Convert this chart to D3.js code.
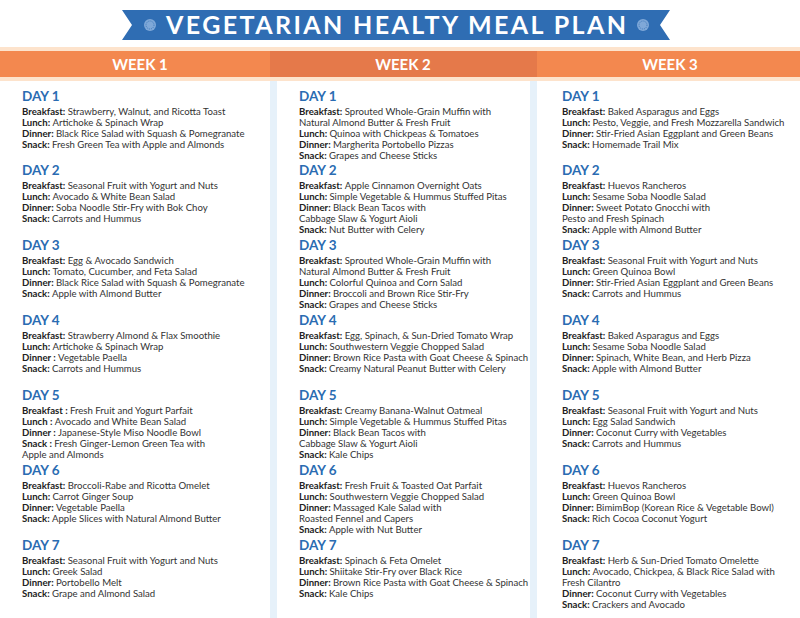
<!DOCTYPE html>
<html>
<head>
<meta charset="utf-8">
<script src="https://cdn.jsdelivr.net/npm/d3@7"></script>
<style>
body{margin:0;background:#fff;}
</style>
</head>
<body>
<svg id="plan" width="800" height="618"></svg>
<script>
var title = "VEGETARIAN HEALTY MEAL PLAN";
var weeks = ["WEEK 1", "WEEK 2", "WEEK 3"];
var dayStart = [96, 170, 245, 320, 395, 470, 545];

var week1 = [
	[["Breakfast:", "Strawberry, Walnut, and Ricotta Toast"], ["Lunch:", "Artichoke & Spinach Wrap"], ["Dinner:", "Black Rice Salad with Squash & Pomegranate"], ["Snack:", "Fresh Green Tea with Apple and Almonds"]],
	[["Breakfast:", "Seasonal Fruit with Yogurt and Nuts"], ["Lunch:", "Avocado & White Bean Salad"], ["Dinner:", "Soba Noodle Stir-Fry with Bok Choy"], ["Snack:", "Carrots and Hummus"]],
	[["Breakfast:", "Egg & Avocado Sandwich"], ["Lunch:", "Tomato, Cucumber, and Feta Salad"], ["Dinner:", "Black Rice Salad with Squash & Pomegranate"], ["Snack:", "Apple with Almond Butter"]],
	[["Breakfast:", "Strawberry Almond & Flax Smoothie"], ["Lunch:", "Artichoke & Spinach Wrap"], ["Dinner :", "Vegetable Paella"], ["Snack:", "Carrots and Hummus"]],
	[["Breakfast :", "Fresh Fruit and Yogurt Parfait"], ["Lunch :", "Avocado and White Bean Salad"], ["Dinner :", " Japanese-Style Miso Noodle Bowl"], ["Snack :", "Fresh Ginger-Lemon Green Tea with"], ["", "Apple and Almonds"]],
	[["Breakfast:", "Broccoli-Rabe and Ricotta Omelet"], ["Lunch:", "Carrot Ginger Soup"], ["Dinner:", "Vegetable Paella"], ["Snack:", "Apple Slices with Natural Almond Butter"]],
	[["Breakfast:", "Seasonal Fruit with Yogurt and Nuts"], ["Lunch:", "Greek Salad"], ["Dinner:", "Portobello Melt"], ["Snack:", "Grape and Almond Salad"]]
];
var week2 = [
	[["Breakfast:", "Sprouted Whole-Grain Muffin with"], ["", "Natural Almond Butter & Fresh Fruit"], ["Lunch:", "Quinoa with Chickpeas & Tomatoes"], ["Dinner:", "Margherita Portobello Pizzas"], ["Snack:", "Grapes and Cheese Sticks"]],
	[["Breakfast:", "Apple Cinnamon Overnight Oats"], ["Lunch:", "Simple Vegetable & Hummus Stuffed Pitas"], ["Dinner:", " Black Bean Tacos with"], ["", "Cabbage Slaw & Yogurt Aioli"], ["Snack:", "Nut Butter with Celery"]],
	[["Breakfast:", "Sprouted Whole-Grain Muffin with"], ["", "Natural Almond Butter & Fresh Fruit"], ["Lunch:", "Colorful Quinoa and Corn Salad"], ["Dinner:", "Broccoli and Brown Rice Stir-Fry"], ["Snack:", "Grapes and Cheese Sticks"]],
	[["Breakfast:", "Egg, Spinach, & Sun-Dried Tomato Wrap"], ["Lunch:", "Southwestern Veggie Chopped Salad"], ["Dinner:", "Brown Rice Pasta with Goat Cheese & Spinach"], ["Snack:", "Creamy Natural Peanut Butter with Celery"]],
	[["Breakfast:", "Creamy Banana-Walnut Oatmeal"], ["Lunch:", "Simple Vegetable & Hummus Stuffed Pitas"], ["Dinner:", "Black Bean Tacos with"], ["", "Cabbage Slaw & Yogurt Aioli"], ["Snack:", "Kale Chips"]],
	[["Breakfast:", "Fresh Fruit & Toasted Oat Parfait"], ["Lunch:", "Southwestern Veggie Chopped Salad"], ["Dinner:", "Massaged Kale Salad with"], ["", "Roasted Fennel and Capers"], ["Snack:", "Apple with Nut Butter"]],
	[["Breakfast:", "Spinach & Feta Omelet"], ["Lunch:", "Shiitake Stir-Fry over Black Rice"], ["Dinner:", "Brown Rice Pasta with Goat Cheese & Spinach"], ["Snack:", "Kale Chips"]]
];
var week3 = [
	[["Breakfast:", "Baked Asparagus and Eggs"], ["Lunch:", "Pesto, Veggie, and Fresh Mozzarella Sandwich"], ["Dinner:", "Stir-Fried Asian Eggplant and Green Beans"], ["Snack:", "Homemade Trail Mix"]],
	[["Breakfast:", "Huevos Rancheros"], ["Lunch:", "Sesame Soba Noodle Salad"], ["Dinner:", "Sweet Potato Gnocchi with"], ["", "Pesto and Fresh Spinach"], ["Snack:", "Apple with Almond Butter"]],
	[["Breakfast:", "Seasonal Fruit with Yogurt and Nuts"], ["Lunch:", "Green Quinoa Bowl"], ["Dinner:", "Stir-Fried Asian Eggplant and Green Beans"], ["Snack:", "Carrots and Hummus"]],
	[["Breakfast:", "Baked Asparagus and Eggs"], ["Lunch:", "Sesame Soba Noodle Salad"], ["Dinner:", "Spinach, White Bean, and Herb Pizza"], ["Snack:", "Apple with Almond Butter"]],
	[["Breakfast:", "Seasonal Fruit with Yogurt and Nuts"], ["Lunch:", "Egg Salad Sandwich"], ["Dinner:", "Coconut Curry with Vegetables"], ["Snack:", "Carrots and Hummus"]],
	[["Breakfast:", "Huevos Rancheros"], ["Lunch:", "Green Quinoa Bowl"], ["Dinner:", "BimimBop (Korean Rice & Vegetable Bowl)"], ["Snack:", "Rich Cocoa Coconut Yogurt"]],
	[["Breakfast:", "Herb & Sun-Dried Tomato Omelette"], ["Lunch:", "Avocado, Chickpea, & Black Rice Salad with"], ["", "Fresh Cilantro"], ["Dinner:", "Coconut Curry with Vegetables"], ["Snack:", "Crackers and Avocado"]]
];
var plan = [week1, week2, week3];

var svg = d3.select("#plan");
var font = "Lato, 'Open Sans', sans-serif";

// column geometry
var colX = [0, 270, 537, 800];
var textX = [22, 299, 562];
var weekLabelX = [140, 403, 670];

// middle column side strips
svg.append("rect").attr("x", 270).attr("y", 78).attr("width", 7).attr("height", 540).attr("fill", "#e6f1fa");
svg.append("rect").attr("x", 530).attr("y", 78).attr("width", 7).attr("height", 540).attr("fill", "#e6f1fa");

// orange week band
svg.append("rect").attr("x", 0).attr("y", 47).attr("width", 800).attr("height", 34).attr("fill", "#fde3cc");
for (var i = 0; i < 3; i++) {
	svg.append("rect")
		.attr("x", colX[i]).attr("y", 51)
		.attr("width", colX[i + 1] - colX[i]).attr("height", 26)
		.attr("fill", i == 1 ? "#e5794a" : "#f3884f");
	svg.append("text")
		.attr("x", weekLabelX[i]).attr("y", 70)
		.attr("text-anchor", "middle")
		.attr("font-family", font).attr("font-weight", "bold")
		.attr("font-size", "15px").attr("fill", "#fff")
		.text(weeks[i]);
}

// title ribbon
var rib = [[122, 10], [670, 10], [660, 25], [670, 40], [122, 40], [132, 25]];
svg.append("polygon").attr("points", rib.map(function(p){ return p.join(","); }).join(" ")).attr("fill", "#2f6db3");
[150, 643].forEach(function(cx) {
	svg.append("circle").attr("cx", cx).attr("cy", 25).attr("r", 6).attr("fill", "#7fa8d8");
	svg.append("circle").attr("cx", cx).attr("cy", 25).attr("r", 4).attr("fill", "none").attr("stroke", "#2f6db3").attr("stroke-width", 0.8).attr("stroke-dasharray", "1,1");
});
svg.append("text")
	.attr("x", 396).attr("y", 34)
	.attr("text-anchor", "middle")
	.attr("font-family", font).attr("font-weight", "bold")
	.attr("font-size", "25px").attr("fill", "#fff")
	.attr("textLength", 460)
	.text(title);

// day blocks
plan.forEach(function(week, w) {
	week.forEach(function(meals, d) {
		var g = svg.append("g").attr("transform", "translate(" + textX[w] + "," + dayStart[d] + ")");
		g.append("text")
			.attr("y", 5)
			.attr("font-family", font).attr("font-weight", "bold")
			.attr("font-size", "13.5px").attr("fill", "#2a6cb2")
			.text("DAY " + (d + 1));
		meals.forEach(function(m, k) {
			var t = g.append("text")
				.attr("y", 19 + k * 11)
				.attr("font-family", font)
				.attr("font-size", "9.6px").attr("fill", "#333");
			if (m[0]) t.append("tspan").attr("font-weight", "bold").attr("fill", "#222").text(m[0] + " ");
			t.append("tspan").text(m[1]);
		});
	});
});
</script>
</body>
</html>
